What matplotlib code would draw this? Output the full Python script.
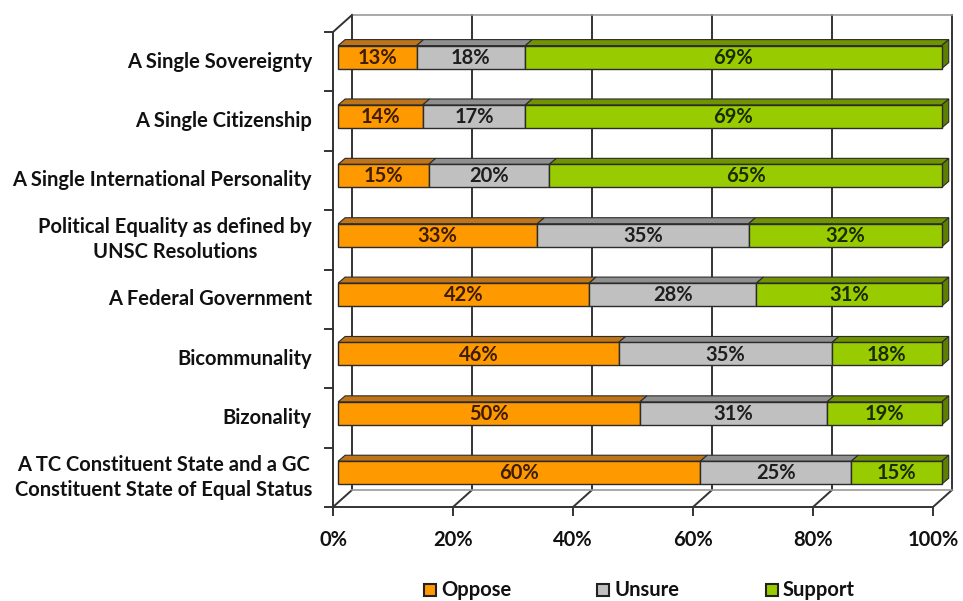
import matplotlib
matplotlib.use("Agg")
import matplotlib.pyplot as plt
import numpy as np
from matplotlib.patches import Polygon, Rectangle
from matplotlib.lines import Line2D

# survey data (percent), top row first
categories = [
    "A Single Sovereignty",
    "A Single Citizenship",
    "A Single International Personality",
    "Political Equality as defined by\nUNSC Resolutions",
    "A Federal Government",
    "Bicommunality",
    "Bizonality",
    "A TC Constituent State and a GC\nConstituent State of Equal Status",
]
oppose = [13, 14, 15, 33, 42, 46, 50, 60]
unsure = [18, 17, 20, 35, 28, 35, 31, 25]
support = [69, 69, 65, 32, 31, 18, 19, 15]
series_names = ["Oppose", "Unsure", "Support"]
x_ticks = [0, 20, 40, 60, 80, 100]

FRONT = ["#ff9900", "#c0c0c0", "#99cc00"]
TOP = ["#c07418", "#8f8f8f", "#6f9400"]
SIDE = ["#a86200", "#7a7a7a", "#5f7f00"]
LABEL = ["#3f1d00", "#1e1e1e", "#1c2a00"]
EDGE = "#2b2b2b"
LINE = "#333333"
FONT = "Lato"

W, H, DPI = 963, 601, 100
fig = plt.figure(figsize=(W / DPI, H / DPI), dpi=DPI)

# front plane of the 3d box, in pixels
fx0, fx1, fy0, fy1 = 333, 933, 32, 507
ax = fig.add_axes([fx0 / W, 1 - fy1 / H, (fx1 - fx0) / W, (fy1 - fy0) / H])
n = len(categories)
ax.set_xlim(0, 100)
ax.set_ylim(n, 0)
ax.axis("off")

px_x = 100 / (fx1 - fx0)      # data units per pixel
px_y = n / (fy1 - fy0)

# wall depth and bar depth (pixels)
wdx, wdy = 19, -17
b0 = 0.27                     # bar front face sits this far into the box
bdx, bdy = 7, -6
bar_h = 23 * px_y
bar_scale = 1.006             # bars drawn slightly wider (perspective)


def off(x, y, dx, dy):
    return x + dx * px_x, y + dy * px_y


kw = dict(color=LINE, lw=1.4, clip_on=False, zorder=1)

# back wall gridlines and box outline
for t in x_ticks:
    bx, by_top = off(t, 0, wdx, wdy)
    _, by_bot = off(t, n, wdx, wdy)
    ax.add_line(Line2D([bx, bx], [by_top, by_bot], **kw))
    # floor diagonals
    ax.add_line(Line2D([t, bx], [n, by_bot], **kw))
    # bottom ticks
    ax.add_line(Line2D([t, t], [n, n + 8 * px_y], **kw))

bx0, by0 = off(0, 0, wdx, wdy)
bx1, by1 = off(100, n, wdx, wdy)
ax.add_line(Line2D([bx0, bx1], [by0, by0], color="#9a9a9a", lw=1.2, clip_on=False, zorder=1))
ax.add_line(Line2D([bx0, bx1], [by1, by1], color="#9a9a9a", lw=1.2, clip_on=False, zorder=1))
ax.add_line(Line2D([0, 100], [n, n], **kw))
ax.add_line(Line2D([0, 0], [0, n], **kw))
ax.add_line(Line2D([0, bx0], [0, by0], **kw))
for k in range(n + 1):
    ax.add_line(Line2D([-8 * px_x, 0], [k, k], **kw))

# stacked 3d bars (normalised to 100%)
vals = np.array([oppose, unsure, support], dtype=float)
shares = vals / vals.sum(axis=0) * 100 * bar_scale
sx, sy = b0 * wdx * px_x, b0 * wdy * px_y
for i in range(n):
    yc = i + 0.5 + sy
    ytop = yc - bar_h / 2
    left = 0.0
    for s in range(3):
        w = shares[s, i]
        x0 = left + sx
        ax.barh(yc, w, left=x0, height=bar_h, color=FRONT[s],
                edgecolor=EDGE, lw=1.0, zorder=3, clip_on=False)
        tx, ty = off(x0 + w, ytop, bdx, bdy)
        lx, _ = off(x0, ytop, bdx, bdy)
        ax.add_patch(Polygon([[x0, ytop], [x0 + w, ytop], [tx, ty], [lx, ty]],
                             closed=True, fc=TOP[s], ec=EDGE, lw=0.8, zorder=2.9,
                             clip_on=False))
        if s == 2:
            ybot = yc + bar_h / 2
            _, ty2 = off(x0 + w, ybot, bdx, bdy)
            ax.add_patch(Polygon([[x0 + w, ytop], [tx, ty], [tx, ty2], [x0 + w, ybot]],
                                 closed=True, fc=SIDE[s], ec=EDGE, lw=0.8, zorder=2.9,
                                 clip_on=False))
        ax.text(x0 + w / 2, yc + 0.01, f"{int(vals[s, i])}%", ha="center", va="center",
                fontsize=14.5, fontweight="bold", family=FONT, color=LABEL[s], zorder=4)
        left += w

# category labels
for i, lab in enumerate(categories):
    ax.text(-21 * px_x, i + 0.5, lab, ha="right", va="center",
            multialignment="center", fontsize=14.5, fontweight="bold",
            family=FONT, color="#111111", linespacing=1.3)

# x tick labels
for t in x_ticks:
    ax.text(t, n + 33 * px_y, f"{t}%", ha="center", va="center", fontsize=14.5,
            fontweight="bold", family=FONT, color="#111111")

# legend
leg_y = 590
leg_x = [424, 597, 766]
for s, name in enumerate(series_names):
    fig.patches.append(Rectangle((leg_x[s] / W, 1 - (leg_y + 6) / H), 12 / W, 12 / H,
                                 transform=fig.transFigure, fc=FRONT[s], ec="#222222",
                                 lw=1.5))
    fig.text((leg_x[s] + 17) / W, 1 - leg_y / H, name, ha="left", va="center",
             fontsize=14.5, fontweight="bold", family=FONT, color="#111111")

fig.savefig("out.png", dpi=DPI)
